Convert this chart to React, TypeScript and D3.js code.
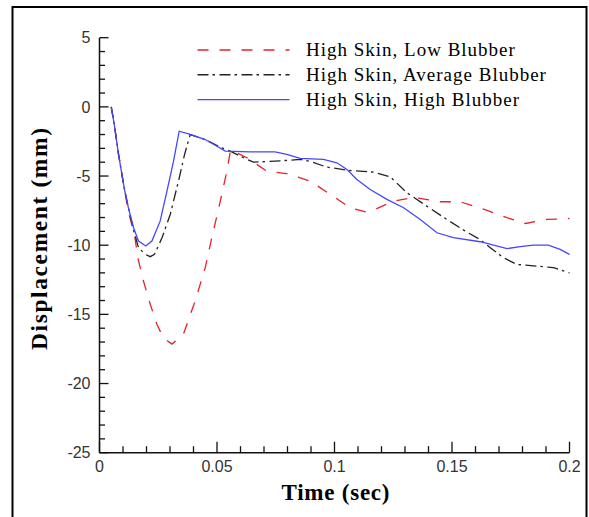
import React from "react";
import * as d3 from "d3";

// ---- data ----
const seriesNames = [
  "High Skin, Low Blubber",
  "High Skin, Average Blubber",
  "High Skin, High Blubber",
];

const timeLow = [0.005, 0.0063, 0.0081, 0.0105, 0.0123, 0.0149, 0.0163, 0.0187, 0.0216, 0.0244, 0.0272, 0.0308, 0.0357, 0.0407, 0.045, 0.0478, 0.0514, 0.0542, 0.0558, 0.0627, 0.0712, 0.0797, 0.0897, 0.0982, 0.1067, 0.1138, 0.118, 0.1251, 0.134, 0.145, 0.1535, 0.1634, 0.1734, 0.1812, 0.1904, 0.2];
const dispLow = [0, -1.28, -3.44, -5.85, -7.6, -9.22, -10.9, -12.59, -14.27, -15.72, -16.68, -17.15, -16.44, -14.03, -11.62, -9.46, -6.81, -4.65, -3.1, -3.68, -4.65, -4.82, -5.37, -6.33, -7.29, -7.61, -7.36, -6.81, -6.55, -6.86, -6.86, -7.4, -8.01, -8.43, -8.14, -8.07];

const timeAvg = [0.005, 0.0063, 0.0081, 0.0105, 0.0123, 0.0145, 0.0166, 0.0194, 0.0216, 0.0234, 0.0266, 0.0301, 0.0336, 0.0362, 0.0386, 0.045, 0.052, 0.0556, 0.0613, 0.0655, 0.0769, 0.0854, 0.0897, 0.0968, 0.1067, 0.1166, 0.1237, 0.1308, 0.1393, 0.1478, 0.1563, 0.162, 0.1663, 0.1719, 0.1776, 0.1861, 0.1932, 0.2];
const dispAvg = [0, -1.28, -3.44, -5.85, -7.3, -8.9, -10.18, -10.66, -10.83, -10.66, -9.46, -7.78, -5.37, -3.44, -2.0, -2.36, -2.96, -3.2, -3.68, -4.0, -3.9, -3.8, -3.95, -4.36, -4.6, -4.72, -5.05, -6.21, -7.18, -8.14, -9.05, -9.6, -10.18, -10.9, -11.39, -11.51, -11.62, -12.0];

const timeHigh = [0.005, 0.0063, 0.0081, 0.0105, 0.0123, 0.0145, 0.0166, 0.0197, 0.0223, 0.0258, 0.0287, 0.0315, 0.0339, 0.0379, 0.045, 0.0535, 0.064, 0.0747, 0.0797, 0.0854, 0.0953, 0.101, 0.1053, 0.1095, 0.1152, 0.1223, 0.1294, 0.1365, 0.1436, 0.1506, 0.162, 0.1734, 0.179, 0.1847, 0.191, 0.196, 0.2];
const dispHigh = [0, -1.28, -3.44, -5.85, -7.3, -8.74, -9.7, -10.06, -9.7, -8.26, -6.09, -3.93, -1.76, -1.95, -2.36, -3.2, -3.25, -3.25, -3.44, -3.73, -3.8, -4.04, -4.53, -5.25, -5.97, -6.69, -7.29, -8.14, -9.1, -9.46, -9.75, -10.25, -10.1, -9.99, -10.0, -10.3, -10.66];

const xMajorTicks = [0, 0.05, 0.1, 0.15, 0.2];
const xTickLabels = ["0", "0.05", "0.1", "0.15", "0.2"];
const yMajorTicks = [5, 0, -5, -10, -15, -20, -25];
const yTickLabels = ["5", "0", "-5", "-10", "-15", "-20", "-25"];

const xTitle = "Time (sec)";
const yTitle = "Displacement (mm)";

// ---- styles ----
const colors = ["#e5222b", "#222222", "#4646ff"];
const dashes = ["11,11", "11,4,2.5,4.5", "none"];

export default function App() {
  const W = 589, H = 517;
  const x = d3.scaleLinear().domain([0, 0.2]).range([99.5, 569.5]);
  const y = d3.scaleLinear().domain([-25, 5]).range([452.7, 37.7]);

  const series = [
    { t: timeLow, v: dispLow },
    { t: timeAvg, v: dispAvg },
    { t: timeHigh, v: dispHigh },
  ];

  const line = d3
    .line<[number, number]>()
    .x((d) => x(d[0]))
    .y((d) => y(d[1]));

  const xMinor = d3.range(0, 0.2001, 0.01).map((v) => +v.toFixed(3));
  const yMinor = d3.range(-25, 5.001, 1);

  const tickFont = "'Liberation Sans', Arial, sans-serif";
  const serif = "'Liberation Serif', 'Times New Roman', serif";

  return (
    <div style={{ position: "fixed", left: 0, top: 0 }}>
      <svg width={W} height={H} style={{ display: "block", background: "#fff" }}>
        <rect x={0} y={0} width={W} height={H} fill="#fff" />
        {/* outer frame */}
        <rect x={12.5} y={7} width={574} height={520} fill="none" stroke="#000" strokeWidth={2} />

        {/* axes */}
        <line x1={x(0)} x2={x(0)} y1={y(5)} y2={y(-25)} stroke="#111" strokeWidth={1.5} />
        <line x1={x(0)} x2={x(0.2)} y1={y(-25)} y2={y(-25)} stroke="#111" strokeWidth={1.5} />

        {/* x ticks */}
        {xMinor.map((t, i) => {
          const major = i % 5 === 0;
          return (
            <line key={"xt" + i} x1={x(t)} x2={x(t)} y1={y(-25)} y2={y(-25) - (major ? 11 : 6.5)} stroke="#111" strokeWidth={1.3} />
          );
        })}
        {/* y ticks */}
        {yMinor.map((v, i) => {
          const major = Math.round(v) % 5 === 0;
          return (
            <line key={"yt" + i} x1={x(0)} x2={x(0) + (major ? 9 : 5.5)} y1={y(v)} y2={y(v)} stroke="#111" strokeWidth={1.3} />
          );
        })}

        {/* tick labels */}
        {xMajorTicks.map((t, i) => (
          <text key={"xl" + i} x={x(t)} y={y(-25) + 19.5} textAnchor="middle" fontFamily={tickFont} fontSize={16} fill="#333">
            {xTickLabels[i]}
          </text>
        ))}
        {yMajorTicks.map((v, i) => (
          <text key={"yl" + i} x={x(0) - 9} y={y(v)} dy="0.36em" textAnchor="end" fontFamily={tickFont} fontSize={16} fill="#333">
            {yTickLabels[i]}
          </text>
        ))}

        {/* axis titles */}
        <text x={335.5} y={500} textAnchor="middle" fontFamily={serif} fontWeight="bold" fontSize={23} textLength={108} lengthAdjust="spacing">
          {xTitle}
        </text>
        <text transform="translate(47,239) rotate(-90)" textAnchor="middle" fontFamily={serif} fontWeight="bold" fontSize={23.5} textLength={222} lengthAdjust="spacing">
          {yTitle}
        </text>

        {/* data lines */}
        {series.map((s, i) => (
          <path
            key={"s" + i}
            d={line(s.t.map((t, j) => [t, s.v[j]] as [number, number])) || ""}
            fill="none"
            stroke={colors[i]}
            strokeWidth={1.3}
            strokeDasharray={dashes[i]}
          />
        ))}

        {/* legend */}
        {seriesNames.map((name, i) => {
          const ly = 50 + i * 24.8;
          return (
            <g key={"lg" + i}>
              <line x1={197.5} x2={289.5} y1={ly} y2={ly} stroke={colors[i]} strokeWidth={1.4} strokeDasharray={dashes[i]} />
              <text x={306} y={ly} dy="0.33em" fontFamily={serif} fontSize={19} letterSpacing={1} fill="#000">
                {name}
              </text>
            </g>
          );
        })}
      </svg>
    </div>
  );
}
